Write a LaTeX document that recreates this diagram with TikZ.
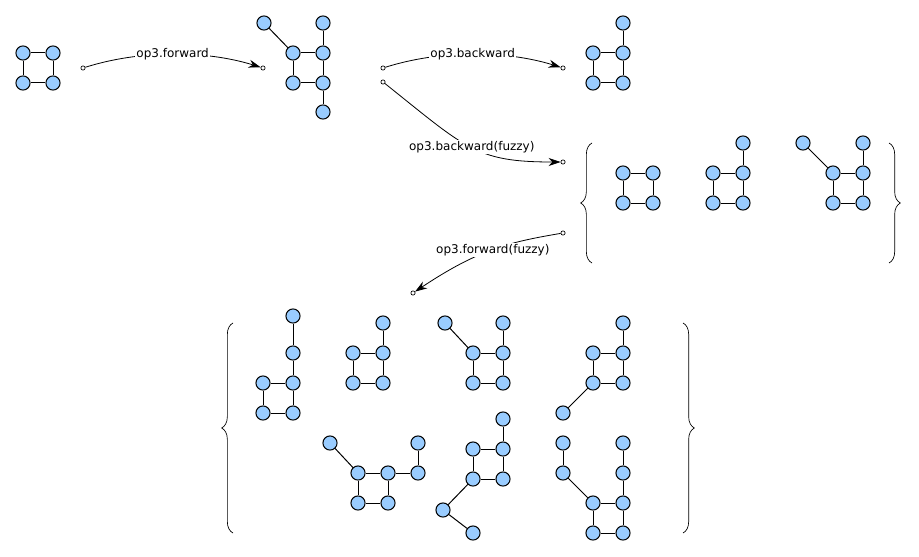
\documentclass[tikz,border=0pt]{standalone}
\usepackage{fontspec}
\setmainfont{DejaVu Sans}
\usepackage{xcolor}
\usepackage{tikz}
\usetikzlibrary{decorations.pathreplacing, arrows.meta, positioning}
\definecolor{atomblue}{HTML}{99CCFF}
\tikzset{
  atom/.style={circle, draw, fill=atomblue, line width=0.75pt, minimum size=10.6pt, inner sep=0pt},
  port/.style={circle, draw, fill=white, line width=0.5pt, minimum size=3.2pt, inner sep=0pt},
  oplabel/.style={fill=white, inner sep=1pt, font=\fontsize{9}{11}\selectfont},
  curly/.style={decorate, decoration={brace, amplitude=8.5pt}, line width=0.5pt},
  bond/.style={line width=0.75pt},
  opline/.style={-{Stealth[length=9pt,width=6pt]}, line width=0.6pt}
}
\begin{document}
\begin{tikzpicture}[x=0.75pt, y=-0.75pt]
\useasboundingbox (0,0) rectangle (919,556);
% input
\node[atom] (a1) at (23,53) {};
\node[atom] (a2) at (53,53) {};
\node[atom] (a3) at (23,83) {};
\node[atom] (a4) at (53,83) {};
\foreach \u/\v in {a1/a2, a2/a4, a4/a3, a3/a1} \draw[bond] (\u) -- (\v);
% forward result
\node[atom] (b1) at (264,23) {};
\node[atom] (b2) at (323,23) {};
\node[atom] (b3) at (293,53) {};
\node[atom] (b4) at (323,53) {};
\node[atom] (b5) at (293,83) {};
\node[atom] (b6) at (323,83) {};
\node[atom] (b7) at (323,112) {};
\foreach \u/\v in {b1/b3, b2/b4, b3/b4, b3/b5, b4/b6, b5/b6, b6/b7} \draw[bond] (\u) -- (\v);
% backward result
\node[atom] (c1) at (623,23) {};
\node[atom] (c2) at (593,53) {};
\node[atom] (c3) at (623,53) {};
\node[atom] (c4) at (593,83) {};
\node[atom] (c5) at (623,83) {};
\foreach \u/\v in {c1/c3, c2/c3, c2/c4, c3/c5, c4/c5} \draw[bond] (\u) -- (\v);
% fuzzy backward set
\node[atom] (d1) at (623,173) {};
\node[atom] (d2) at (653,173) {};
\node[atom] (d3) at (623,203) {};
\node[atom] (d4) at (653,203) {};
\foreach \u/\v in {d1/d2, d2/d4, d4/d3, d3/d1} \draw[bond] (\u) -- (\v);
\node[atom] (e1) at (743,143) {};
\node[atom] (e2) at (713,173) {};
\node[atom] (e3) at (743,173) {};
\node[atom] (e4) at (713,203) {};
\node[atom] (e5) at (743,203) {};
\foreach \u/\v in {e1/e3, e2/e3, e2/e4, e3/e5, e4/e5} \draw[bond] (\u) -- (\v);
\node[atom] (f1) at (803,143) {};
\node[atom] (f2) at (863,143) {};
\node[atom] (f3) at (833,173) {};
\node[atom] (f4) at (863,173) {};
\node[atom] (f5) at (833,203) {};
\node[atom] (f6) at (863,203) {};
\foreach \u/\v in {f1/f3, f2/f4, f3/f4, f3/f5, f4/f6, f5/f6} \draw[bond] (\u) -- (\v);
\draw[curly] (592,263) -- (592,143);
\draw[curly] (889,143) -- (889,263);
% fuzzy forward set
\node[atom] (p1) at (293,316) {};
\node[atom] (p2) at (293,353) {};
\node[atom] (p3) at (263,383) {};
\node[atom] (p4) at (293,383) {};
\node[atom] (p5) at (263,413) {};
\node[atom] (p6) at (293,413) {};
\foreach \u/\v in {p1/p2, p2/p4, p3/p4, p3/p5, p4/p6, p5/p6} \draw[bond] (\u) -- (\v);
\node[atom] (q1) at (383,323) {};
\node[atom] (q2) at (353,353) {};
\node[atom] (q3) at (383,353) {};
\node[atom] (q4) at (353,383) {};
\node[atom] (q5) at (383,383) {};
\foreach \u/\v in {q1/q3, q2/q3, q2/q4, q3/q5, q4/q5} \draw[bond] (\u) -- (\v);
\node[atom] (r1) at (445,323) {};
\node[atom] (r2) at (503,323) {};
\node[atom] (r3) at (473,353) {};
\node[atom] (r4) at (503,353) {};
\node[atom] (r5) at (473,383) {};
\node[atom] (r6) at (503,383) {};
\foreach \u/\v in {r1/r3, r2/r4, r3/r4, r3/r5, r4/r6, r5/r6} \draw[bond] (\u) -- (\v);
\node[atom] (s1) at (623,323) {};
\node[atom] (s2) at (593,353) {};
\node[atom] (s3) at (623,353) {};
\node[atom] (s4) at (593,383) {};
\node[atom] (s5) at (623,383) {};
\node[atom] (s6) at (563,413) {};
\foreach \u/\v in {s1/s3, s2/s3, s2/s4, s3/s5, s4/s5, s4/s6} \draw[bond] (\u) -- (\v);
\node[atom] (u1) at (330,443) {};
\node[atom] (u2) at (418,443) {};
\node[atom] (u3) at (358,473) {};
\node[atom] (u4) at (388,473) {};
\node[atom] (u5) at (418,473) {};
\node[atom] (u6) at (358,503) {};
\node[atom] (u7) at (388,503) {};
\foreach \u/\v in {u1/u3, u3/u4, u4/u5, u2/u5, u3/u6, u4/u7, u6/u7} \draw[bond] (\u) -- (\v);
\node[atom] (v1) at (503,419) {};
\node[atom] (v2) at (473,449) {};
\node[atom] (v3) at (503,449) {};
\node[atom] (v4) at (473,479) {};
\node[atom] (v5) at (503,479) {};
\node[atom] (v6) at (443,510) {};
\node[atom] (v7) at (473,533) {};
\foreach \u/\v in {v1/v3, v2/v3, v2/v4, v3/v5, v4/v5, v4/v6, v6/v7} \draw[bond] (\u) -- (\v);
\node[atom] (w1) at (563,443) {};
\node[atom] (w2) at (623,443) {};
\node[atom] (w3) at (563,473) {};
\node[atom] (w4) at (623,473) {};
\node[atom] (w5) at (593,503) {};
\node[atom] (w6) at (623,503) {};
\node[atom] (w7) at (593,533) {};
\node[atom] (w8) at (623,533) {};
\foreach \u/\v in {w1/w3, w3/w5, w2/w4, w4/w6, w5/w6, w5/w7, w6/w8, w7/w8} \draw[bond] (\u) -- (\v);
\draw[curly] (233,533) -- (233,323);
\draw[curly] (683,323) -- (683,533);
% operations
\node[port] (src1) at (83,68) {};
\node[port] (dst1) at (263,68) {};
\node[port] (src2) at (383,68) {};
\node[port] (dst2) at (563,68) {};
\node[port] (src3) at (383,82) {};
\node[port] (dst3) at (563,162) {};
\node[port] (src4) at (563,233) {};
\node[port] (dst4) at (413,293) {};
\draw[opline] (src1) .. controls (140,50) and (205,50) .. node[oplabel] {op3.forward} (dst1);
\draw[opline] (src2) .. controls (440,50) and (505,50) .. node[oplabel] {op3.backward} (dst2);
\draw[opline] (src3) .. controls (467,149) and (476,162) .. node[oplabel] {op3.backward(fuzzy)} (dst3);
\draw[opline] (src4) .. controls (510,242) and (479,249) .. node[oplabel] {op3.forward(fuzzy)} (dst4);
\end{tikzpicture}
\end{document}
